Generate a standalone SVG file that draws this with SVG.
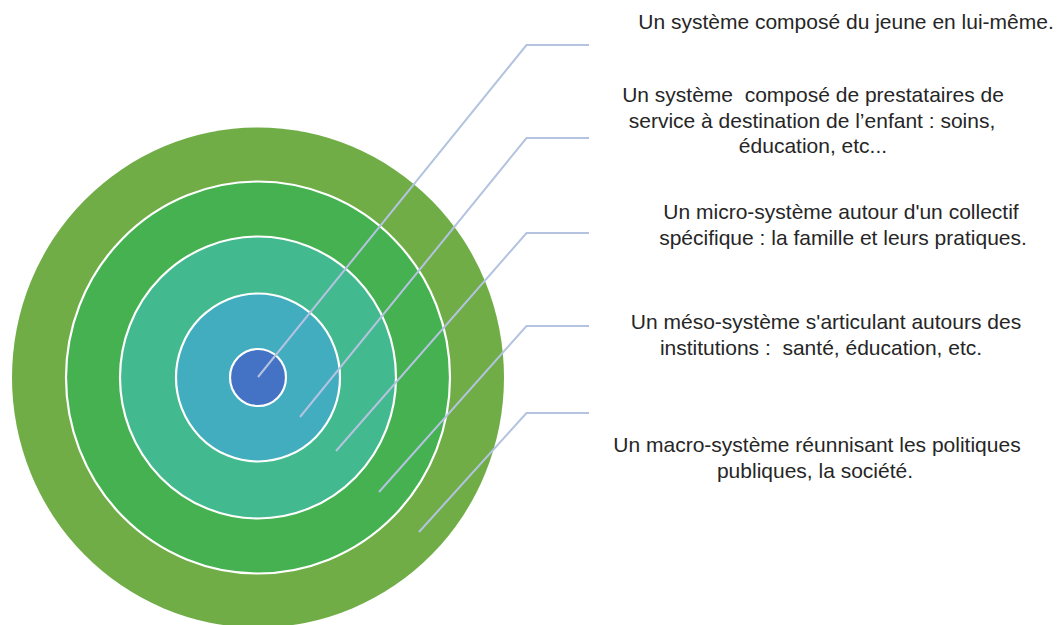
<svg xmlns="http://www.w3.org/2000/svg" width="1060" height="625" viewBox="0 0 1060 625">
<style>
  .ring { stroke: #FFFFFF; stroke-width: 2.2; }
  .conn { fill: none; stroke: #B4C3E0; stroke-width: 2; stroke-linejoin: miter; }
  .lbl { font-family: "Liberation Sans", Arial, sans-serif; font-size: 21px; fill: #262626; text-anchor: middle; white-space: pre; }
</style>
<rect width="1060" height="625" fill="#FFFFFF"/>
<g id="macro">
  <ellipse cx="258" cy="377.5" rx="246" ry="250" fill="#70AD47"/>
</g>
<g id="meso">
  <ellipse class="ring" cx="258" cy="377.5" rx="192" ry="196" fill="#46B150"/>
</g>
<g id="micro">
  <ellipse class="ring" cx="258" cy="377.5" rx="138" ry="141" fill="#42B98E"/>
</g>
<g id="prestataires">
  <ellipse class="ring" cx="258" cy="377.5" rx="82" ry="84" fill="#41ADBF"/>
</g>
<g id="jeune">
  <ellipse class="ring" cx="258" cy="377.5" rx="28" ry="28.5" fill="#4472C4"/>
</g>
<g id="connectors">
  <polyline class="conn" points="258,377 526.5,45 589,45"/>
  <polyline class="conn" points="300,417 526.5,138 589,138"/>
  <polyline class="conn" points="336,451 526.5,233 589,233"/>
  <polyline class="conn" points="379,492 526.5,326 589,326"/>
  <polyline class="conn" points="419,532 526.5,413 589,413"/>
</g>
<g id="label-jeune">
  <text class="lbl" x="846" y="29">Un système composé du jeune en lui-même.</text>
</g>
<g id="label-prestataires">
  <text class="lbl" x="813" y="102">Un système  composé de prestataires de</text>
  <text class="lbl" x="812" y="127.5">service à destination de l’enfant : soins,</text>
  <text class="lbl" x="813" y="153">éducation, etc...</text>
</g>
<g id="label-micro">
  <text class="lbl" x="841" y="219">Un micro-système autour d'un collectif</text>
  <text class="lbl" x="843" y="244.5">spécifique : la famille et leurs pratiques.</text>
</g>
<g id="label-meso">
  <text class="lbl" x="826" y="329">Un méso-système s'articulant autours des</text>
  <text class="lbl" x="821" y="354.5">institutions :  santé, éducation, etc.</text>
</g>
<g id="label-macro">
  <text class="lbl" x="817" y="452">Un macro-système réunnisant les politiques</text>
  <text class="lbl" x="815" y="477.5">publiques, la société.</text>
</g>
</svg>
